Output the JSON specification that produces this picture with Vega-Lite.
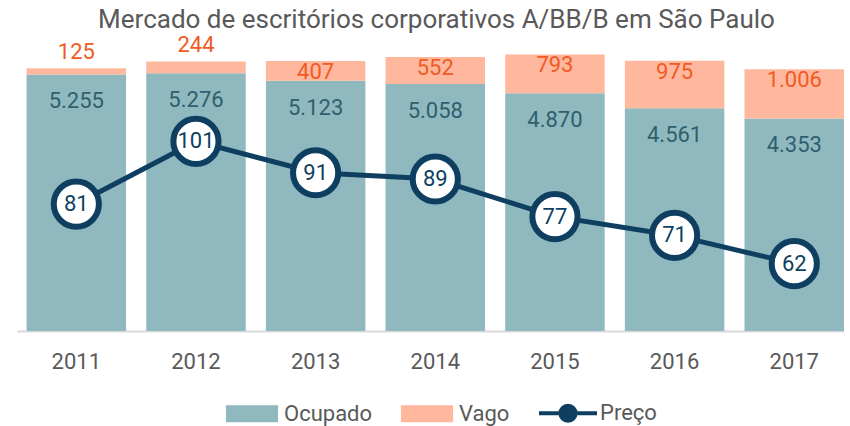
{
  "$schema": "https://vega.github.io/schema/vega-lite/v6.json",
  "autosize": {"type": "none"},
  "padding": {"left": 17, "top": 38, "right": 6, "bottom": 95},
  "width": 827,
  "height": 293,
  "title": {"text": "Mercado de escritórios corporativos A/BB/B em São Paulo", "font": "Roboto", "fontSize": 26, "fontWeight": "normal", "color": "#595959", "anchor": "middle", "offset": 1, "dx": 6},
  "data": {"values": [
    {"ano": "2011", "Ocupado": 5255, "Vago": 125, "preco": 81},
    {"ano": "2012", "Ocupado": 5276, "Vago": 244, "preco": 101},
    {"ano": "2013", "Ocupado": 5123, "Vago": 407, "preco": 91},
    {"ano": "2014", "Ocupado": 5058, "Vago": 552, "preco": 89},
    {"ano": "2015", "Ocupado": 4870, "Vago": 793, "preco": 77},
    {"ano": "2016", "Ocupado": 4561, "Vago": 975, "preco": 71},
    {"ano": "2017", "Ocupado": 4353, "Vago": 1006, "preco": 62}
  ]},
  "encoding": {
    "x": {"field": "ano", "type": "nominal", "scale": {"paddingInner": 0.1685, "paddingOuter": 0.04, "align": 1},
      "axis": {"title": null, "labelAngle": 0, "ticks": false, "domainColor": "#d9d9d9", "domainWidth": 2, "labelFont": "Roboto", "labelFontSize": 22, "labelColor": "#595959", "labelPadding": 20}}
  },
  "layer": [
    {
      "transform": [
        {"fold": ["Ocupado", "Vago"], "as": ["serie", "valor"]},
        {"stack": "valor", "groupby": ["ano"], "sort": [{"field": "serie", "order": "ascending"}], "as": ["v0", "v1"]}
      ],
      "layer": [
        {
          "mark": {"type": "bar"},
          "encoding": {
            "y": {"field": "v0", "type": "quantitative", "scale": {"domain": [0, 6000], "nice": false, "zero": true}, "axis": null},
            "y2": {"field": "v1"},
            "color": {"field": "serie", "type": "nominal",
              "scale": {"domain": ["Ocupado", "Vago", "Preço"], "range": ["#8fb9be", "#ffb89e", "#0e3f61"]},
              "legend": {"title": null, "orient": "none", "legendX": 204, "legendY": 344, "direction": "horizontal",
                "labelFont": "Roboto", "labelFontSize": 22, "labelColor": "#595959", "labelOffset": 1, "columnPadding": 21,
                "symbolSize": 3364, "symbolStrokeWidth": 4,
                "encode": {"symbols": {"update": {
                  "shape": {"signal": "datum.label === 'Preço' ? 'M-1,0H-0.26M0.26,0H1M0.26,0A0.26,0.26 0 1,1 -0.26,0A0.26,0.26 0 1,1 0.26,0Z' : 'M-0.83,-0.224H0.83V0.224H-0.83Z'"},
                  "fill": {"signal": "datum.label === 'Ocupado' ? '#8fb9be' : datum.label === 'Vago' ? '#ffb89e' : '#ffffff'"},
                  "stroke": {"signal": "datum.label === 'Ocupado' ? '#8fb9be' : datum.label === 'Vago' ? '#ffb89e' : '#0e3f61'"},
                  "opacity": {"value": 1},
                  "fillOpacity": {"value": 1},
                  "strokeOpacity": {"value": 1}
                }}}
              }}
          }
        },
        {
          "transform": [{"filter": "datum.serie === 'Ocupado'"}],
          "mark": {"type": "text", "font": "Roboto", "fontSize": 22, "color": "#2f5f6e", "baseline": "middle", "dy": 27},
          "encoding": {
            "y": {"field": "v1", "type": "quantitative", "scale": {"domain": [0, 6000], "nice": false}, "axis": null},
            "text": {"field": "valor", "type": "quantitative", "format": ",d", "formatType": "number"}
          }
        },
        {
          "transform": [{"filter": "datum.serie === 'Vago' && datum.valor >= 300"}],
          "mark": {"type": "text", "font": "Roboto", "fontSize": 22, "color": "#f15a24", "baseline": "middle", "dy": 11},
          "encoding": {
            "y": {"field": "v1", "type": "quantitative", "scale": {"domain": [0, 6000], "nice": false}, "axis": null},
            "text": {"field": "valor", "type": "quantitative", "format": ",d"}
          }
        },
        {
          "transform": [{"filter": "datum.serie === 'Vago' && datum.valor < 300"}],
          "mark": {"type": "text", "font": "Roboto", "fontSize": 22, "color": "#f15a24", "baseline": "middle", "dy": -16},
          "encoding": {
            "y": {"field": "v1", "type": "quantitative", "scale": {"domain": [0, 6000], "nice": false}, "axis": null},
            "text": {"field": "valor", "type": "quantitative", "format": ",d"}
          }
        }
      ]
    },
    {
      "encoding": {
        "y": {"field": "preco", "type": "quantitative", "scale": {"domain": [40.5, 134], "nice": false, "zero": false}, "axis": null}
      },
      "layer": [
        {"mark": {"type": "line", "color": "#0e3f61", "strokeWidth": 5}, "encoding": {}},
        {"mark": {"type": "point", "shape": "circle", "size": 2040, "filled": true, "fill": "#ffffff", "stroke": "#0e3f61", "strokeWidth": 6, "opacity": 1}, "encoding": {}},
        {"mark": {"type": "text", "font": "Roboto", "fontSize": 22, "color": "#0e3f61", "baseline": "middle"}, "encoding": {"text": {"field": "preco", "type": "quantitative"}}}
      ]
    }
  ],
  "resolve": {"scale": {"y": "independent"}},
  "config": {
    "view": {"stroke": null},
    "locale": {"number": {"decimal": ",", "thousands": ".", "grouping": [3], "currency": ["R$", ""]}}
  }
}
